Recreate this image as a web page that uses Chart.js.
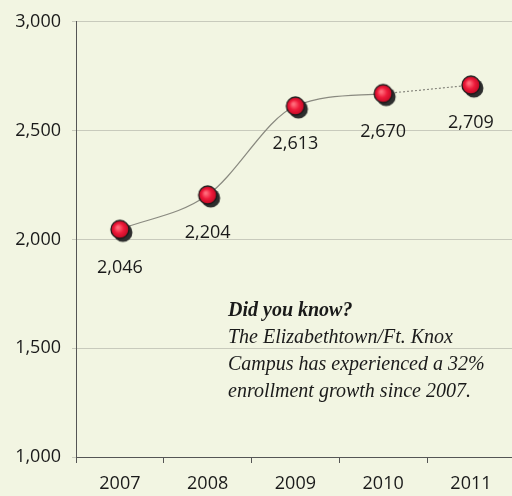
<!DOCTYPE html>
<html>
<head>
<meta charset="utf-8">
<script src="https://cdn.jsdelivr.net/npm/chart.js@4.4.0/dist/chart.umd.min.js"></script>
<style>
  html, body { margin: 0; overflow: hidden; background: #f2f5e2; }
  canvas { display: block; }
</style>
</head>
<body>
<canvas id="enroll" width="520" height="496"></canvas>
<script>
// chart values
const years = ['2007', '2008', '2009', '2010', '2011'];
const enrollment = [2046, 2204, 2613, 2670, 2709];
const noteTitle = 'Did you know?';
const noteLines = [
  'The Elizabethtown/Ft. Knox',
  'Campus has experienced a 32%',
  'enrollment growth since 2007.'
];

// red ball marker with a dark drop shadow
function makeMarker() {
  const c = document.createElement('canvas');
  c.width = 32; c.height = 32;
  const g = c.getContext('2d');
  g.fillStyle = '#2e2e2e';
  g.beginPath(); g.arc(19, 19, 9.5, 0, Math.PI * 2); g.fill();
  const grad = g.createRadialGradient(14, 14, 1, 16, 16, 9);
  grad.addColorStop(0, '#ff6b7a');
  grad.addColorStop(0.5, '#ee1a3a');
  grad.addColorStop(1, '#c00a24');
  g.fillStyle = grad;
  g.beginPath(); g.arc(16, 16, 9, 0, Math.PI * 2); g.fill();
  g.strokeStyle = '#1a1a1a';
  g.lineWidth = 1.3;
  g.stroke();
  return c;
}

const fmt = v => Number(v).toLocaleString('en-US');

const labelsPlugin = {
  id: 'valueLabels',
  afterDatasetsDraw(chart) {
    const ctx = chart.ctx;
    const meta = chart.getDatasetMeta(0);
    ctx.save();
    ctx.font = '18px "Open Sans"';
    ctx.fillStyle = '#1a1a1a';
    ctx.textAlign = 'center';
    ctx.textBaseline = 'middle';
    meta.data.forEach((pt, i) => {
      ctx.fillText(fmt(enrollment[i]), pt.x, pt.y + 38);
    });
    // note text
    ctx.textAlign = 'left';
    ctx.font = 'bold italic 20px "Liberation Serif"';
    ctx.fillText(noteTitle, 228, 311);
    ctx.font = 'italic 20px "Liberation Serif"';
    noteLines.forEach((t, i) => ctx.fillText(t, 228, 338 + i * 27));
    ctx.restore();
  }
};

new Chart(document.getElementById('enroll'), {
  type: 'line',
  data: {
    labels: years,
    datasets: [{
      data: enrollment,
      borderColor: '#8a8a80',
      borderWidth: 1.2,
      cubicInterpolationMode: 'monotone',
      fill: false,
      pointStyle: makeMarker(),
      segment: {
        borderDash: c => c.p1DataIndex === 4 ? [2, 2] : undefined
      }
    }]
  },
  options: {
    responsive: false,
    animation: false,
    events: [],
    layout: { padding: { top: 12, right: 0, left: 0, bottom: 0 } },
    plugins: { legend: { display: false }, tooltip: { enabled: false } },
    scales: {
      x: {
        offset: true,
        grid: { offset: true, drawOnChartArea: false, tickLength: 6, color: '#555' },
        border: { color: '#555', width: 1 },
        ticks: { color: '#1a1a1a', font: { family: 'Open Sans', size: 18 }, padding: 10 },
        afterFit(s) { s.height = 39; }
      },
      y: {
        min: 1000,
        max: 3000,
        ticks: {
          stepSize: 500,
          color: '#1a1a1a',
          font: { family: 'Open Sans', size: 18 },
          padding: 11,
          callback: v => fmt(v)
        },
        grid: { color: '#c8cabc', tickLength: 4 },
        border: { color: '#555', width: 1 },
        afterFit(s) { s.width = 76; }
      }
    }
  },
  plugins: [labelsPlugin]
});
</script>
</body>
</html>
